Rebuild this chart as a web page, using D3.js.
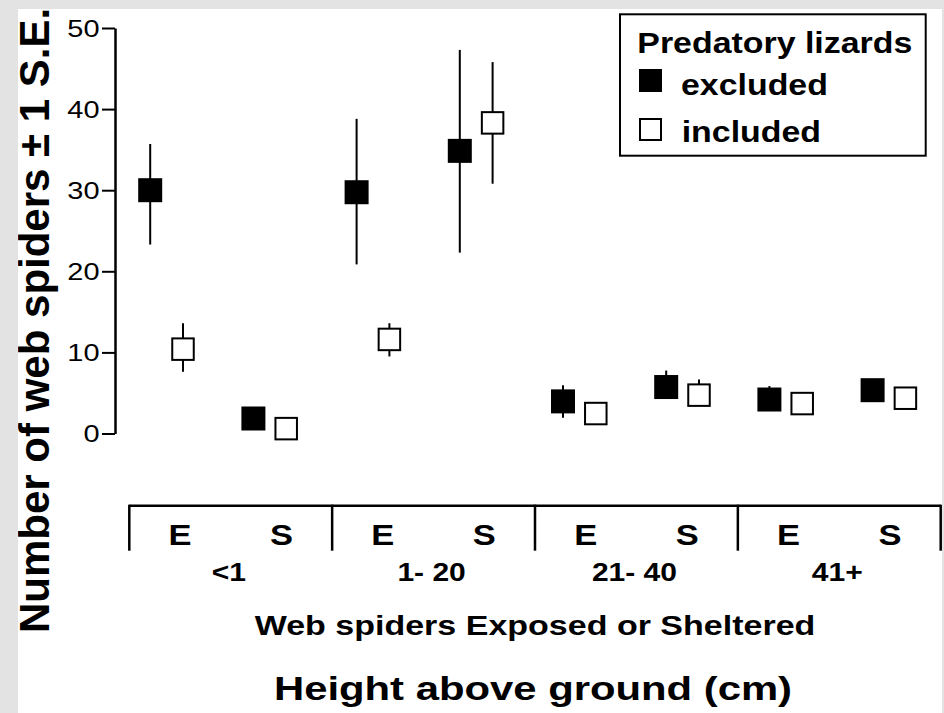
<!DOCTYPE html>
<html><head><meta charset="utf-8">
<script src="https://cdn.jsdelivr.net/npm/d3@7"></script>
<style>body{margin:0;background:#e3e3e3} svg{display:block}</style>
</head><body>
<svg id="c" width="944" height="713"></svg>
<script>
// ---- data ----
const heights = ["<1", "1- 20", "21- 40", "41+"];
const exposures = ["E", "S"];
const treatments = ["excluded", "included"];
const yTicks = [0, 10, 20, 30, 40, 50];
// slot order: <1 E, <1 S, 1-20 E, 1-20 S, 21-40 E, 21-40 S, 41+ E, 41+ S
const excludedMean = [30.0, 1.85, 29.75, 34.85, 3.96, 5.73, 4.19, 5.34];
const excludedLow  = [23.3, 1.85, 20.85, 22.3, 1.93, 5.73, 4.19, 5.34];
const excludedHigh = [35.7, 1.85, 38.8, 47.3, 5.96, 7.76, 5.85, 5.34];
const includedMean = [10.4, 0.6, 11.6, 38.3, 2.46, 4.73, 3.69, 4.35];
const includedLow  = [7.6, 0.6, 9.5, 30.8, 2.46, 4.73, 3.69, 4.35];
const includedHigh = [13.6, 0.6, 13.6, 45.8, 2.46, 6.65, 3.69, 4.35];
const yTitle = "Number of web spiders \u00b1 1 S.E.";
const xTitle1 = "Web spiders Exposed or Sheltered";
const xTitle2 = "Height above ground (cm)";
const legendTitle = "Predatory lizards";

// ---- build ----
const slots = [];
heights.forEach(h => exposures.forEach(e => slots.push(h + "|" + e)));
const series = {
  excluded: slots.map((s, i) => ({slot: s, t: "excluded", m: excludedMean[i], lo: excludedLow[i], hi: excludedHigh[i]})),
  included: slots.map((s, i) => ({slot: s, t: "included", m: includedMean[i], lo: includedLow[i], hi: includedHigh[i]}))
};

const svg = d3.select("#c");
const FONT = "'Liberation Sans', Arial, Helvetica, sans-serif";

// white panel
svg.append("rect").attr("x", 18).attr("y", 9).attr("width", 924).attr("height", 704).attr("fill", "#fff");
svg.append("clipPath").attr("id", "panel").append("rect").attr("x", 18).attr("y", 9).attr("width", 924).attr("height", 704);
const g = svg.append("g").attr("clip-path", "url(#panel)");

const y = d3.scaleLinear().domain([0, 50]).range([433.5, 28]);
const axisX = 115;
const groupX = d3.scaleBand().domain(heights).range([129.3, 940.7]);
const slotBand = d3.scaleBand().domain(slots).range([129.3, 940.7]);
const markerX = d3.scalePoint().domain(slots).range([166.6, 889]);
const treatOff = d3.scalePoint().domain(treatments).range([-16.4, 16.4]);

function txt(parent, x, yy, str, size, weight, anchor, sx) {
  return parent.append("text")
    .attr("transform", `translate(${x},${yy}) scale(${sx},1)`)
    .attr("font-family", FONT).attr("font-size", size).attr("font-weight", weight)
    .attr("text-anchor", anchor).attr("fill", "#000").text(str);
}

// y axis
const yAxis = g.append("g").attr("transform", `translate(${axisX},0)`)
  .call(d3.axisLeft(y).tickValues(yTicks).tickSize(13).tickSizeOuter(0).tickFormat(d3.format("d")));
yAxis.select(".domain").attr("stroke", "#000").attr("stroke-width", 2.5);
yAxis.selectAll(".tick line").attr("stroke", "#000").attr("stroke-width", 2);
yAxis.selectAll(".tick text").remove();
yAxis.selectAll(".tick").each(function(d) {
  txt(d3.select(this), -15.5, 8.3, d3.format("d")(d), 23, "normal", "end", 1.26);
});

// y title
g.append("text")
  .attr("transform", "translate(49,633) rotate(-90)")
  .attr("font-family", FONT).attr("font-size", 42).attr("font-weight", "bold")
  .attr("fill", "#000").text(yTitle);

// bottom category axis
const x0 = groupX.range()[0], x1 = groupX.range()[1];
const axTop = 505.7, axBot = 550.7;
g.append("line").attr("x1", x0).attr("x2", x1).attr("y1", axTop).attr("y2", axTop)
  .attr("stroke", "#000").attr("stroke-width", 2.5);
const dividers = heights.map(h => groupX(h)).concat([x1]);
g.selectAll("line.div").data(dividers).join("line").attr("class", "div")
  .attr("x1", d => d).attr("x2", d => d).attr("y1", axTop - 1).attr("y2", axBot)
  .attr("stroke", "#000").attr("stroke-width", 2.5);
slots.forEach(s => {
  const e = s.split("|")[1];
  txt(g, slotBand(s) + slotBand.bandwidth() / 2, 545, e, 30, "bold", "middle", 1.15);
});
heights.forEach(h => {
  txt(g, groupX(h) + groupX.bandwidth() / 2 - 2, 580.7, h, 25, "bold", "middle", 1.2);
});
txt(g, (x0 + x1) / 2, 634.5, xTitle1, 27, "bold", "middle", 1.26);
txt(g, (x0 + x1) / 2 - 2, 700, xTitle2, 34, "bold", "middle", 1.23);

// error bars + markers
const px = d => markerX(d.slot) + treatOff(d.t);
treatments.forEach(t => {
  const data = series[t];
  g.selectAll("line.eb-" + t).data(data.filter(d => d.hi > d.lo)).join("line")
    .attr("class", "eb-" + t)
    .attr("x1", px).attr("x2", px).attr("y1", d => y(d.lo)).attr("y2", d => y(d.hi))
    .attr("stroke", "#000").attr("stroke-width", 2);
});
const FS = 24, OS = 21.5;
g.selectAll("rect.exc").data(series.excluded).join("rect").attr("class", "exc")
  .attr("x", d => px(d) - FS / 2).attr("y", d => y(d.m) - FS / 2)
  .attr("width", FS).attr("height", FS).attr("fill", "#000");
g.selectAll("rect.inc").data(series.included).join("rect").attr("class", "inc")
  .attr("x", d => px(d) - OS / 2).attr("y", d => y(d.m) - OS / 2)
  .attr("width", OS).attr("height", OS).attr("fill", "#fff").attr("stroke", "#000").attr("stroke-width", 2);

// legend
const lg = g.append("g");
lg.append("rect").attr("x", 620).attr("y", 14.3).attr("width", 305.7).attr("height", 141.4)
  .attr("fill", "#fff").attr("stroke", "#000").attr("stroke-width", 2);
txt(lg, 637.3, 53.3, legendTitle, 30, "bold", "start", 1.13);
lg.append("rect").attr("x", 639).attr("y", 69).attr("width", 23).attr("height", 23).attr("fill", "#000");
txt(lg, 681, 95, treatments[0], 30, "bold", "start", 1.13);
lg.append("rect").attr("x", 640).attr("y", 119).attr("width", 21).attr("height", 21)
  .attr("fill", "#fff").attr("stroke", "#000").attr("stroke-width", 2);
txt(lg, 681.7, 141.7, treatments[1], 30, "bold", "start", 1.13);
</script>
</body></html>
